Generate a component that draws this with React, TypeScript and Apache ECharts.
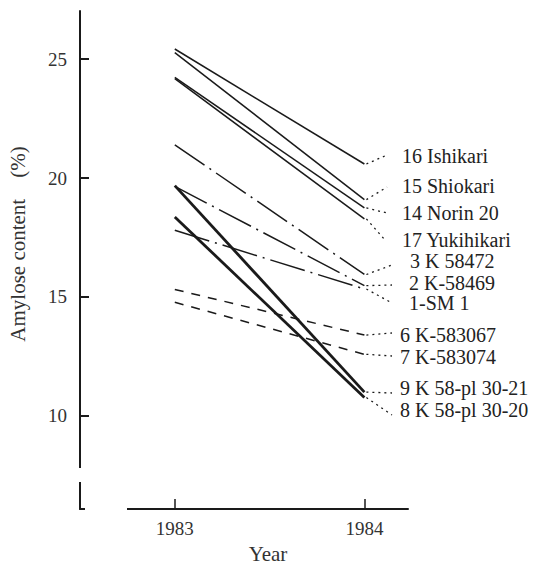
import React, { useEffect, useRef } from "react";
import * as echarts from "echarts";

// ---- data ----
const YEARS = [1983, 1984];
const CULTIVARS = [
  "16 Ishikari",
  "15 Shiokari",
  "14 Norin 20",
  "17 Yukihikari",
  "3 K 58472",
  "2 K-58469",
  "1-SM 1",
  "6 K-583067",
  "7 K-583074",
  "9 K 58-pl 30-21",
  "8 K 58-pl 30-20",
];
const AMYLOSE_1983 = [25.43, 25.28, 24.24, 24.18, 21.4, 19.65, 17.8, 15.31, 14.77, 19.68, 18.36];
const AMYLOSE_1984 = [20.59, 19.09, 18.74, 18.28, 15.94, 15.47, 15.33, 13.39, 12.58, 10.99, 10.76];
const LINE_KIND = ["solid", "solid", "solid", "solid", "dashdot", "dashdot", "dashdot", "dash", "dash", "thick", "thick"];
const Y_TICKS = [10, 15, 20, 25];

// ---- layout (pixels) ----
const LABEL_POS = [
  [402, 156], [402, 186], [402, 213], [402, 240], [410, 261], [409, 283],
  [409, 303], [400, 335], [400, 357], [400, 388], [400, 410],
];
const LEADER_END = [
  [387, 155], [387, 187], [387, 213], [385, 240], [392, 265], [392, 285],
  [392, 303], [392, 333], [392, 356], [392, 393], [392, 415],
];

const FONT_FAMILY = '"Liberation Serif", "Times New Roman", serif';
const INK = "#1a1a1a";

const STYLE: Record<string, any> = {
  solid: { width: 1.5, type: "solid" },
  dashdot: { width: 1.5, type: [36, 6, 2, 6] },
  dash: { width: 1.5, type: [9, 8] },
  thick: { width: 2.8, type: "solid" },
};

export default function App() {
  const ref = useRef<HTMLDivElement>(null);

  useEffect(() => {
    if (!ref.current) return;
    const chart = echarts.init(ref.current, null, { renderer: "svg" });

    const series = CULTIVARS.map((name, i) => ({
      type: "line",
      name,
      data: YEARS.map((yr, k) => [yr, k === 0 ? AMYLOSE_1983[i] : AMYLOSE_1984[i]]),
      symbol: "none",
      silent: true,
      clip: false,
      lineStyle: { color: INK, ...STYLE[LINE_KIND[i]] },
    }));

    chart.setOption({
      animation: false,
      backgroundColor: "#ffffff",
      grid: { left: 80, top: 11, right: 139, bottom: 56, containLabel: false },
      xAxis: {
        type: "value",
        min: 1982.5,
        max: 1984.23,
        axisLine: { show: true, lineStyle: { color: INK, width: 2 } },
        axisTick: {
          show: true,
          inside: true,
          length: 10,
          customValues: YEARS,
          lineStyle: { color: INK, width: 1.5 },
        },
        axisLabel: {
          show: true,
          customValues: YEARS,
          margin: 10,
          color: "#333",
          fontFamily: FONT_FAMILY,
          fontSize: 19,
          formatter: (v: number) => String(Math.round(v)),
        },
        splitLine: { show: false },
      },
      yAxis: {
        type: "value",
        min: 6.07,
        max: 27.03,
        axisLine: { show: true, lineStyle: { color: INK, width: 2 } },
        axisTick: {
          show: true,
          inside: true,
          length: 9,
          customValues: Y_TICKS,
          lineStyle: { color: INK, width: 2 },
        },
        axisLabel: {
          show: true,
          customValues: Y_TICKS,
          margin: 13,
          color: "#333",
          fontFamily: FONT_FAMILY,
          fontSize: 19,
        },
        splitLine: { show: false },
      },
      series,
    });

    const graphics: any[] = [
      // break in the y axis
      { type: "rect", z: 100, shape: { x: 75, y: 468, width: 10, height: 14 }, style: { fill: "#ffffff" } },
      // x axis starts to the right of the y axis foot
      { type: "rect", z: 100, shape: { x: 85, y: 504, width: 42, height: 10 }, style: { fill: "#ffffff" } },
      {
        type: "text",
        z: 101,
        x: 18,
        y: 244,
        rotation: Math.PI / 2,
        style: {
          text: "Amylose content    (%)",
          align: "center",
          verticalAlign: "middle",
          font: `21px ${FONT_FAMILY}`,
          fill: "#333",
        },
      },
      {
        type: "text",
        z: 101,
        x: 268,
        y: 554,
        style: {
          text: "Year",
          align: "center",
          verticalAlign: "middle",
          font: `21px ${FONT_FAMILY}`,
          fill: "#333",
        },
      },
    ];

    CULTIVARS.forEach((name, i) => {
      const p = chart.convertToPixel({ gridIndex: 0 }, [YEARS[1], AMYLOSE_1984[i]]) as number[];
      graphics.push({
        type: "line",
        z: 50,
        shape: { x1: p[0] + 2, y1: p[1], x2: LEADER_END[i][0], y2: LEADER_END[i][1] },
        style: { stroke: INK, lineWidth: 1.3, lineDash: [2, 4] },
      });
      graphics.push({
        type: "text",
        z: 101,
        x: LABEL_POS[i][0],
        y: LABEL_POS[i][1],
        style: {
          text: name,
          align: "left",
          verticalAlign: "middle",
          font: `20px ${FONT_FAMILY}`,
          fill: "#222",
        },
      });
    });

    chart.setOption({ graphic: graphics });

    return () => chart.dispose();
  }, []);

  return (
    <div
      ref={ref}
      style={{ position: "fixed", left: 0, top: 0, width: 547, height: 565, background: "#fff" }}
    />
  );
}
